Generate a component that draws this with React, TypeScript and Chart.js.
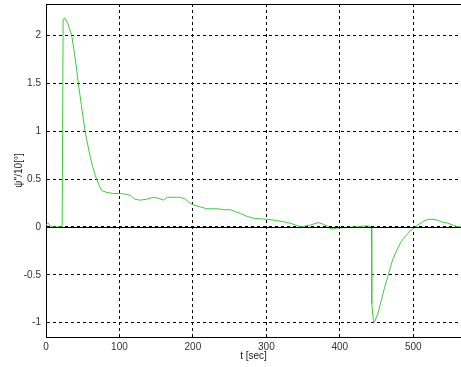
import React, { useEffect, useRef } from "react";
import { Chart, registerables } from "chart.js";

Chart.register(...registerables);

const tValues: number[] = [
  0, 3, 6, 10, 22, 23, 23.3, 26, 30, 35, 40, 44, 48, 53, 57, 60, 64, 67, 72, 76,
  83, 92, 101, 110, 115, 121, 128, 137, 146, 153, 160, 165, 172, 178, 183, 190,
  196, 201, 210, 219, 226, 233, 242, 251, 258, 265, 274, 283, 292, 301, 312, 323,
  332, 340, 347, 353, 360, 366, 371, 377, 383, 388, 391, 396, 401, 410, 422, 432,
  438, 443, 443.5, 446, 447, 452, 456, 460, 466, 472, 478, 483, 490, 496, 501, 508,
  514, 520, 527, 533, 540, 547, 554, 561, 565,
];

const psiValues: number[] = [
  0.02, 0.04, 0.01, 0.0, 0.0, 0.0, 2.17, 2.18, 2.12, 2.0, 1.75, 1.5, 1.28, 1.01, 0.85, 0.74, 0.62, 0.54, 0.44, 0.38,
  0.36, 0.35, 0.35, 0.34, 0.33, 0.29, 0.28, 0.29, 0.31, 0.3, 0.28, 0.31, 0.31, 0.31, 0.31, 0.29,
  0.25, 0.23, 0.21, 0.19, 0.19, 0.19, 0.18, 0.18, 0.16, 0.14, 0.11, 0.09, 0.085, 0.08, 0.07, 0.055,
  0.04, 0.02, 0.0, 0.01, 0.02, 0.035, 0.045, 0.03, 0.01, -0.02, -0.02, -0.01, -0.01, -0.005, 0.0, 0.01,
  0.01, 0.0, -0.8, -1.0, -1.0, -0.9, -0.78, -0.66, -0.5, -0.34, -0.24, -0.16, -0.09, -0.04, -0.01, 0.03,
  0.06, 0.08, 0.08, 0.07, 0.05, 0.04, 0.02, 0.0, 0.01,
];

const xTicks: number[] = [0, 100, 200, 300, 400, 500];
const yTicks: number[] = [-1, -0.5, 0, 0.5, 1, 1.5, 2];

const xTitle = "t [sec]";
const yTitle = "ψ''/10[°]";

export default function App() {
  const ref = useRef<HTMLCanvasElement | null>(null);

  useEffect(() => {
    document.body.style.margin = "0";
    const canvas = ref.current;
    if (!canvas) return;

    const framePlugin = {
      id: "frame",
      afterDatasetsDraw(chart: any) {
        const { ctx, chartArea, scales } = chart;
        const y0 = scales.y.getPixelForValue(0);
        ctx.save();
        ctx.strokeStyle = "#000";
        ctx.lineWidth = 1;
        ctx.setLineDash([]);
        ctx.beginPath();
        ctx.moveTo(chartArea.left, Math.round(y0) + 0.5);
        ctx.lineTo(chartArea.right, Math.round(y0) + 0.5);
        ctx.moveTo(chartArea.left, chartArea.top + 0.5);
        ctx.lineTo(chartArea.right, chartArea.top + 0.5);
        ctx.stroke();
        ctx.restore();
      },
    };

    const chart = new Chart(canvas, {
      type: "scatter",
      data: {
        datasets: [
          {
            data: tValues.map((t, i) => ({ x: t, y: psiValues[i] })),
            showLine: true,
            borderColor: "#3ccc3c",
            borderWidth: 1,
            pointRadius: 0,
            tension: 0,
          },
        ],
      },
      options: {
        responsive: false,
        animation: false,
        layout: { padding: { top: 4, right: 0, left: 0, bottom: 0 } },
        plugins: {
          legend: { display: false },
          tooltip: { enabled: false },
        },
        scales: {
          x: {
            type: "linear",
            min: 0,
            max: 565,
            afterBuildTicks: (axis: any) => {
              axis.ticks = xTicks.map((v) => ({ value: v }));
            },
            afterFit: (axis: any) => {
              axis.height = 30;
              axis.paddingLeft = 0;
              axis.paddingRight = 0;
            },
            ticks: {
              padding: 4,
              color: "#333",
              font: { family: "Liberation Sans, Arial, sans-serif", size: 10 },
              maxRotation: 0,
              callback: (v: any) => String(v),
            },
            grid: { color: "#000", lineWidth: 1, drawTicks: false },
            border: { display: true, color: "#000", width: 1, dash: [3, 3] },
            title: {
              display: true,
              text: xTitle,
              color: "#222",
              font: { family: "Liberation Sans, Arial, sans-serif", size: 10 },
              padding: { top: 0, bottom: 5 },
            },
          },
          y: {
            type: "linear",
            min: -1.15,
            max: 2.33,
            afterBuildTicks: (axis: any) => {
              axis.ticks = yTicks.map((v) => ({ value: v }));
            },
            afterFit: (axis: any) => {
              axis.width = 46;
              axis.paddingTop = 0;
              axis.paddingBottom = 0;
            },
            ticks: {
              padding: 5,
              color: "#333",
              font: { family: "Liberation Sans, Arial, sans-serif", size: 10 },
              callback: (v: any) => String(v),
            },
            grid: { color: "#000", lineWidth: 1, drawTicks: false },
            border: { display: true, color: "#000", width: 1, dash: [3, 3] },
            title: {
              display: true,
              text: yTitle,
              color: "#222",
              font: { family: "Liberation Sans, Arial, sans-serif", size: 10 },
              padding: { top: 13, bottom: 0 },
            },
          },
        },
      },
      plugins: [framePlugin],
    });

    return () => chart.destroy();
  }, []);

  return (
    <div style={{ width: 461, height: 367, background: "#fff" }}>
      <canvas ref={ref} width={461} height={367} style={{ display: "block" }} />
    </div>
  );
}
